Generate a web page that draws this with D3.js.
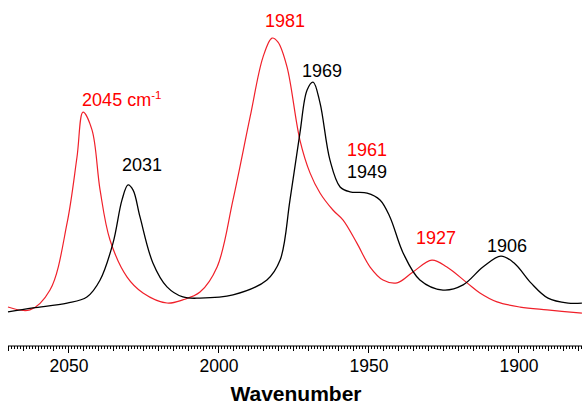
<!DOCTYPE html>
<html>
<head>
<meta charset="utf-8">
<script src="https://cdn.jsdelivr.net/npm/d3@7"></script>
<style>
body { margin: 0; background: #fff; }
svg { display: block; font-family: "Liberation Sans", Arial, sans-serif; }
</style>
</head>
<body>
<div id="chart"></div>
<script>
// DATA (wavenumber, absorbance a.u.)
var redWave = [2070, 2062.7, 2056, 2050.3, 2047, 2045, 2042, 2039.3, 2036, 2030.3, 2025, 2017, 2011.7, 2006, 2000.3, 1995, 1989.3, 1985, 1982, 1980, 1977, 1972.7, 1969.3, 1966, 1961.7, 1958.3, 1953.7, 1949.3, 1945, 1940.3, 1935, 1928.7, 1923.7, 1917, 1912.7, 1907, 1899.3, 1890.3, 1878.7];
var redAbs = [0.038, 0.028, 0.097, 0.33, 0.559, 0.715, 0.653, 0.444, 0.271, 0.142, 0.087, 0.052, 0.063, 0.09, 0.177, 0.41, 0.698, 0.906, 0.972, 0.958, 0.872, 0.618, 0.503, 0.434, 0.375, 0.34, 0.26, 0.177, 0.132, 0.122, 0.16, 0.201, 0.177, 0.122, 0.087, 0.056, 0.038, 0.028, 0.017];

var blackWave = [2070, 2061.7, 2050.3, 2043.7, 2039.3, 2035, 2032, 2030, 2028.3, 2026, 2021.7, 2017, 2011.7, 2006, 1995, 1983.7, 1979.3, 1976, 1972.7, 1970.3, 1968.3, 1966, 1962.7, 1959.3, 1956, 1950.3, 1946, 1942.7, 1938.3, 1932.7, 1925, 1918.3, 1911.7, 1905.7, 1901.3, 1895.7, 1890, 1883.3, 1878.7];
var blackAbs = [0.021, 0.035, 0.052, 0.073, 0.132, 0.26, 0.41, 0.462, 0.444, 0.351, 0.191, 0.108, 0.073, 0.069, 0.08, 0.132, 0.201, 0.41, 0.642, 0.792, 0.819, 0.747, 0.549, 0.455, 0.438, 0.434, 0.41, 0.351, 0.226, 0.132, 0.097, 0.115, 0.177, 0.215, 0.191, 0.122, 0.069, 0.052, 0.052];

var tickValues = [2050, 2000, 1950, 1900];

// peak annotations: text, where the text sits (wavenumber, absorbance), colour
var peakLabels = ["2045", "2031", "1981", "1969", "1961", "1949", "1927", "1906"];
var labelWave = [2045.3, 2025.3, 1977.7, 1965.3, 1950.3, 1950.3, 1927.3, 1903.7];
var labelAbs = [0.736, 0.51, 1.01, 0.837, 0.5625, 0.487, 0.257, 0.229];
var peakColor = ["red", "black", "red", "black", "red", "black", "red", "black"];

// SIZING
var width = 582, height = 405;
var svg = d3.select("#chart").append("svg")
    .attr("width", width)
    .attr("height", height);

var x = d3.scaleLinear().domain([2070, 1878.67]).range([8, 582]);
var y = d3.scaleLinear().domain([0, 1]).range([318, 30]);
var axisY = 346;

// AXIS
var g = svg.append("g").attr("transform", "translate(0," + axisY + ")");
g.append("line")
    .attr("x1", 8).attr("x2", 582)
    .attr("stroke", "#000").attr("stroke-width", 1);

var minor = d3.range(1879, 2071, 1);
g.selectAll("line.tk").data(minor).enter().append("line")
    .attr("class", "tk")
    .attr("x1", function (d) { return Math.round(x(d)) + 0.5; })
    .attr("x2", function (d) { return Math.round(x(d)) + 0.5; })
    .attr("y1", 0)
    .attr("y2", function (d) {
        if (d % 50 == 0) return 7;
        if (d % 5 == 0) return 5;
        return 3;
    })
    .attr("stroke", "#000").attr("stroke-width", 1);

g.selectAll("text.tl").data(tickValues).enter().append("text")
    .attr("class", "tl")
    .attr("x", function (d) { return x(d) + 1; })
    .attr("y", 26)
    .attr("text-anchor", "middle")
    .style("font-size", "17.5px")
    .text(function (d) { return d; });

svg.append("text")
    .attr("x", 296).attr("y", 401)
    .attr("text-anchor", "middle")
    .style("font-size", "21px")
    .style("font-weight", "bold")
    .text("Wavenumber");

// SPECTRA
var line = d3.line()
    .x(function (d) { return x(d[0]); })
    .y(function (d) { return y(d[1]); })
    .curve(d3.curveCatmullRom.alpha(0.5));

svg.append("path")
    .datum(d3.zip(redWave, redAbs))
    .attr("d", line)
    .attr("fill", "none")
    .attr("stroke", "#f0202a")
    .attr("stroke-width", 1.2);

svg.append("path")
    .datum(d3.zip(blackWave, blackAbs))
    .attr("d", line)
    .attr("fill", "none")
    .attr("stroke", "#000")
    .attr("stroke-width", 1.3);

// LABELS
var lab = svg.selectAll("text.pk").data(peakLabels).enter().append("text")
    .attr("class", "pk")
    .attr("x", function (d, i) { return x(labelWave[i]); })
    .attr("y", function (d, i) { return y(labelAbs[i]); })
    .attr("text-anchor", function (d, i) { return i == 0 ? "start" : "middle"; })
    .attr("fill", function (d, i) { return peakColor[i]; })
    .style("font-size", "18px")
    .text(function (d) { return d; });

// unit on first label
lab.filter(function (d, i) { return i == 0; })
    .append("tspan").text(" cm");
lab.filter(function (d, i) { return i == 0; })
    .append("tspan").attr("dy", -7).style("font-size", "11.5px").text("-1");
</script>
</body>
</html>
